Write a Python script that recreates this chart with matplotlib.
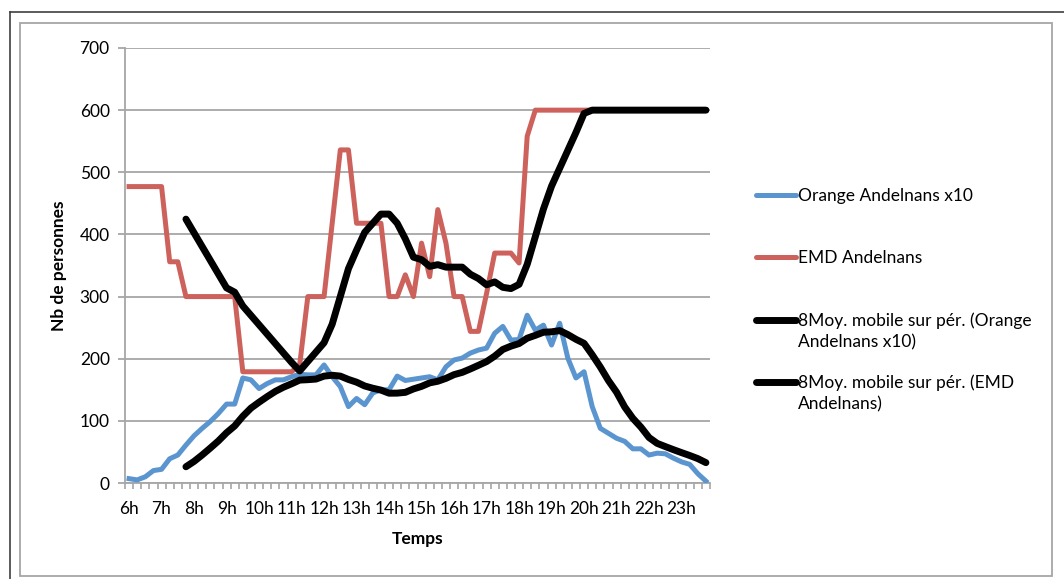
import numpy as np
import pandas as pd
import matplotlib
matplotlib.use("Agg")
import matplotlib.pyplot as plt
from matplotlib.lines import Line2D
from matplotlib.patches import Rectangle

plt.rcParams['font.family'] = ['Lato', 'DejaVu Sans']

# quarter-hour slots from 6h00 to 23h45
hours = [f"{h}h" for h in range(6, 24)]

orange_x10 = [7, 5, 10, 20, 22, 39, 45, 61, 76, 88, 99, 112, 127, 127,
              169, 166, 152, 160, 166, 166, 171, 175, 174, 174, 190, 171,
              155, 123, 136, 126, 145, 150, 150, 172, 165, 167, 169, 171,
              166, 187, 198, 201, 209, 214, 217, 241, 252, 230, 231, 270,
              246, 254, 222, 257, 201, 169, 179, 123, 88, 80, 72, 67,
              55, 55, 45, 48, 47, 40, 34, 30, 15, 3]

emd = [477, 477, 477, 477, 477, 356, 356, 300, 300, 300, 300, 300, 300, 300,
       179, 179, 179, 179, 179, 179, 179, 190, 300, 300, 300, 418, 536, 536,
       418, 418, 418, 418, 300, 300, 335, 300, 386, 332, 440, 386, 300, 300,
       244, 244, 305, 370, 370, 370, 354, 558] + [600] * 22

labels = ['Orange Andelnans x10', 'EMD Andelnans',
          '8Moy. mobile sur pér. (Orange\nAndelnans x10)',
          '8Moy. mobile sur pér. (EMD\nAndelnans)']

df = pd.DataFrame({'orange': orange_x10, 'emd': emd})
df['ma_orange'] = df['orange'].rolling(8).mean()
df['ma_emd'] = df['emd'].rolling(8).mean()
x = np.arange(len(df))

blue = '#5B95CF'
red = '#CD625C'
grid = '#A6A6A6'
fs = 12.5

fig = plt.figure(figsize=(10.64, 5.79), dpi=100)
ax = fig.add_axes([125 / 1064, 1 - 483 / 579, (710 - 125) / 1064, (483 - 48) / 579])

ax.plot(x, df['orange'], color=blue, lw=3.6, solid_joinstyle='round', zorder=3)
ax.plot(x, df['emd'], color=red, lw=3.6, solid_joinstyle='round', zorder=3)
ax.plot(x, df['ma_orange'], color='black', lw=5, solid_joinstyle='round',
        solid_capstyle='round', zorder=4)
ax.plot(x, df['ma_emd'], color='black', lw=5, solid_joinstyle='round',
        solid_capstyle='round', zorder=4)

ax.set_xlim(-0.5, len(df) - 0.5)
ax.set_ylim(0, 700)
ax.set_yticks(range(0, 701, 100))
ax.yaxis.grid(True, color=grid, lw=1.3)
ax.set_axisbelow(True)
for s in ['top', 'right']:
    ax.spines[s].set_visible(False)
for s in ['left', 'bottom']:
    ax.spines[s].set_color(grid)
    ax.spines[s].set_linewidth(1.3)

ax.set_xticks(np.arange(0, len(df), 4))
ax.set_xticklabels(hours)
ax.set_xticks(np.arange(-0.5, len(df), 1), minor=True)
ax.tick_params(axis='x', which='major', length=0, pad=13, labelsize=fs)
ax.tick_params(axis='x', which='minor', length=4, color=grid, width=1.2)
ax.tick_params(axis='y', length=5, color=grid, width=1.3, labelsize=fs, pad=6)

ax.set_xlabel('Temps', fontweight='bold', fontsize=fs, labelpad=10)
ax.set_ylabel('Nb de personnes', fontweight='bold', fontsize=fs, labelpad=9)

# chart frame
fig.add_artist(Rectangle((20 / 1064, 1 - 576 / 579), (1052 - 20) / 1064, (576 - 23) / 579,
                         transform=fig.transFigure, fill=False, ec=grid, lw=1.3))
fig.add_artist(Line2D([10 / 1064, 1], [1 - 12 / 579] * 2, transform=fig.transFigure,
                      color='#404040', lw=1.2))
fig.add_artist(Line2D([10 / 1064] * 2, [0, 1 - 12 / 579], transform=fig.transFigure,
                      color='#404040', lw=1.2))

# legend drawn by hand so multi-line labels keep the handle on the first line
leg_colors = [blue, red, 'black', 'black']
leg_widths = [3.6, 3.6, 5, 5]
leg_y = [195, 257, 320, 382]
for lab, c, w, yy in zip(labels, leg_colors, leg_widths, leg_y):
    fy = 1 - yy / 579
    fig.add_artist(Line2D([756 / 1064, 796 / 1064], [fy, fy], transform=fig.transFigure,
                          color=c, lw=w, solid_capstyle='round'))
    for k, line in enumerate(lab.split('\n')):
        fig.text(798 / 1064, 1 - (yy + 1 + 21.5 * k) / 579, line, fontsize=fs,
                 va='center', ha='left')

fig.savefig('out.png', dpi=100)
